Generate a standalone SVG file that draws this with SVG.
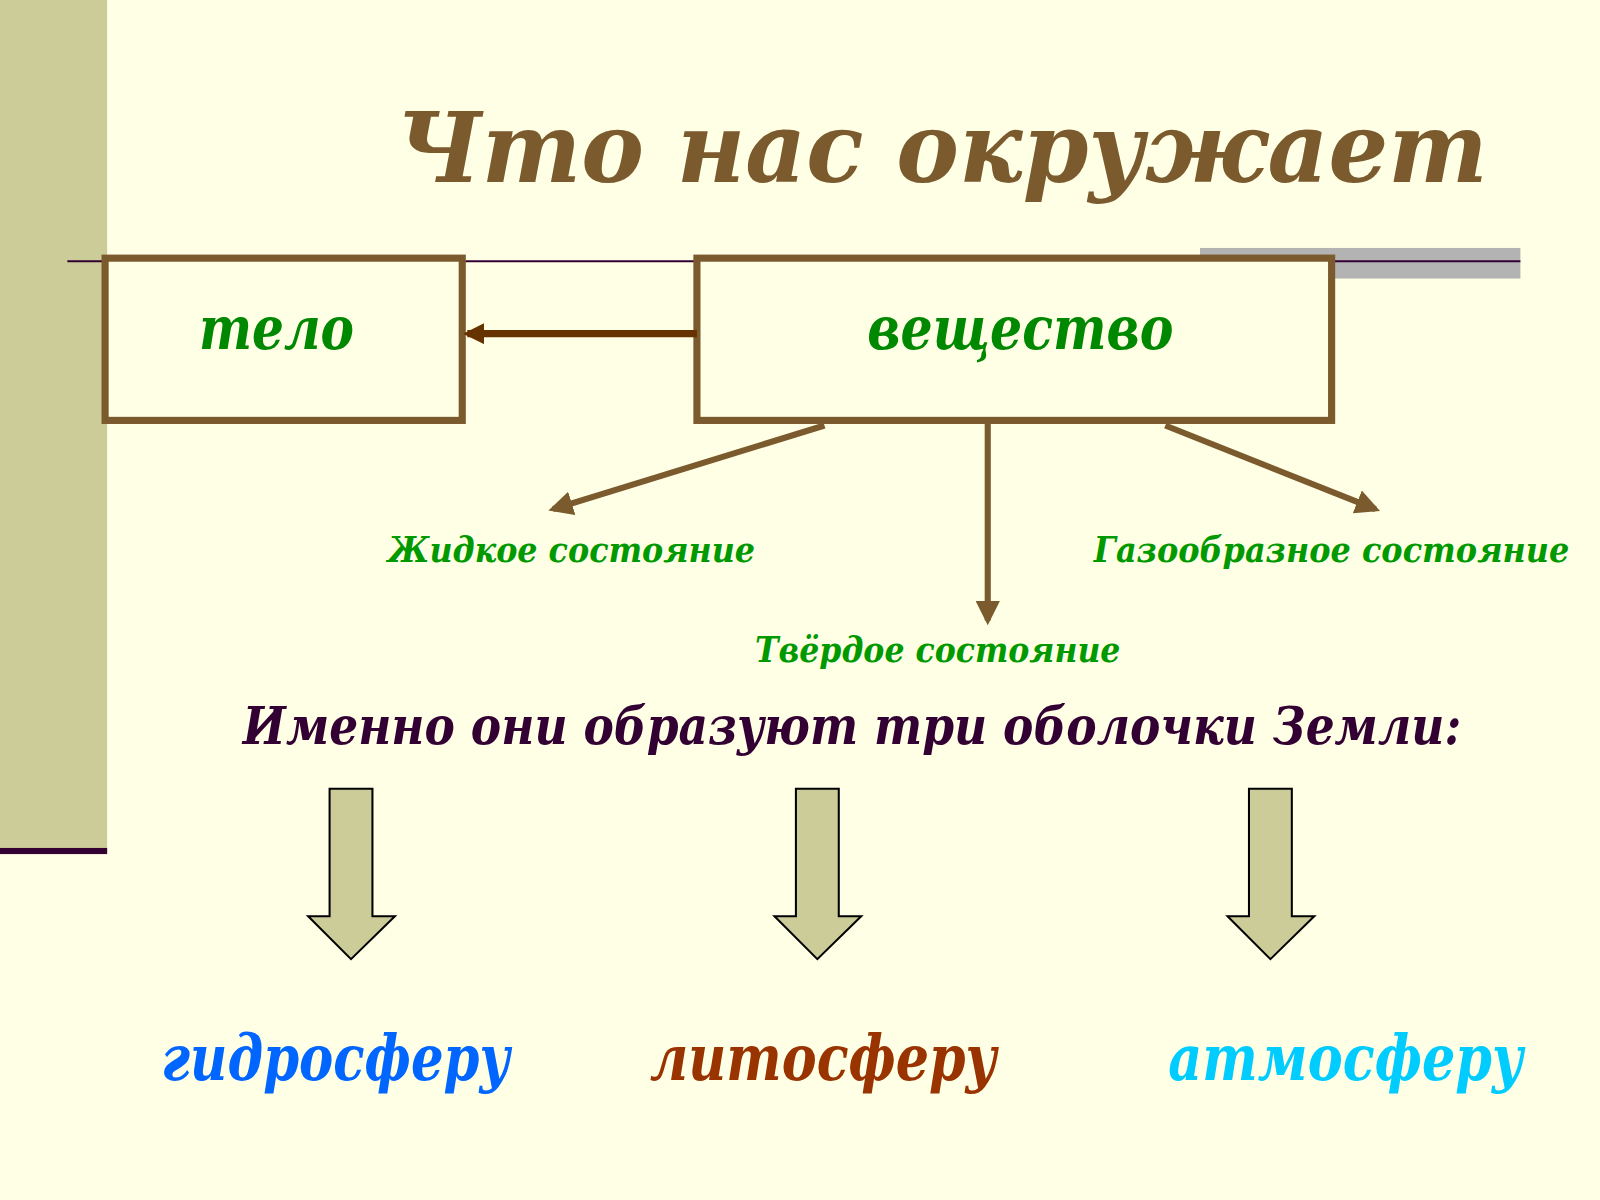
<svg xmlns="http://www.w3.org/2000/svg" width="1600" height="1200" viewBox="0 0 1600 1200">
<defs>
<style>
text{font-family:"DejaVu Serif","Liberation Serif",serif;font-weight:bold;font-style:italic}
.box{fill:#FFFFE5;stroke:#7B5A2E;stroke-width:7}
.ln{stroke:#7B5A2E;stroke-width:6;fill:none}
.lbl{fill:#009900;font-size:34px}
.big{fill:#008800;font-size:58px}
.barr{fill:#CCCC99;stroke:#000;stroke-width:2}
.sph{font-size:62px}
</style>
<marker id="ah" viewBox="0 0 10 10" refX="8" refY="5" markerWidth="4" markerHeight="4" orient="auto"><path d="M0,0L10,5L0,10z" fill="#7B5A2E"/></marker>
<marker id="ah2" viewBox="0 0 10 10" refX="8" refY="5" markerWidth="3" markerHeight="3" orient="auto"><path d="M0,0L10,5L0,10z" fill="#663300"/></marker>
</defs>
<rect width="1600" height="1200" fill="#FFFFE5"/>
<g transform="scale(1.0204)">
<rect x="0" y="0" width="105" height="835" fill="#CCCC99"/>
<rect x="0" y="831" width="105" height="6" fill="#330033"/>
<rect x="1176" y="243" width="314" height="30" fill="#B3B3B3"/>
<line x1="66" y1="256" x2="1490" y2="256" stroke="#330033" stroke-width="2"/>
<text x="388" y="178" textLength="1070" lengthAdjust="spacingAndGlyphs" font-size="96" fill="#7B5A2E">Что нас окружает</text>
<g id="telo"><rect class="box" x="103" y="253" width="350" height="159"/><text class="big" x="195" y="342" textLength="152" lengthAdjust="spacingAndGlyphs">тело</text></g>
<g id="veshchestvo"><rect class="box" x="683" y="253" width="622" height="159"/><text class="big" x="850" y="342" textLength="300" lengthAdjust="spacingAndGlyphs">вещество</text></g>
<g id="connectors">
<line x1="683" y1="327" x2="458" y2="327" stroke="#663300" stroke-width="7" marker-end="url(#ah2)"/>
<line class="ln" x1="808" y1="417" x2="542" y2="499" marker-end="url(#ah)"/>
<line class="ln" x1="968" y1="415" x2="968" y2="608" marker-end="url(#ah)"/>
<line class="ln" x1="1142" y1="417" x2="1348" y2="499" marker-end="url(#ah)"/>
</g>
<g id="zhidkoe"><text class="lbl" x="380" y="551" textLength="360" lengthAdjust="spacingAndGlyphs">Жидкое состояние</text></g>
<g id="gaz"><text class="lbl" x="1072" y="551" textLength="466" lengthAdjust="spacingAndGlyphs">Газообразное состояние</text></g>
<g id="tverdoe"><text class="lbl" x="740" y="649" textLength="358" lengthAdjust="spacingAndGlyphs">Твёрдое состояние</text></g>
<text x="238" y="729" textLength="1194" lengthAdjust="spacingAndGlyphs" font-size="52" fill="#330033">Именно они образуют три оболочки Земли:</text>
<g id="arrows">
<path class="barr" d="M323,773H365V898H387L344,940L302,898H323Z"/>
<path class="barr" d="M780,773H822V898H844L801,940L759,898H780Z"/>
<path class="barr" d="M1224,773H1266V898H1288L1245,940L1203,898H1224Z"/>
</g>
<g id="gidro"><text class="sph" x="158" y="1058" textLength="342" lengthAdjust="spacingAndGlyphs" fill="#0066FF">гидросферу</text></g>
<g id="lito"><text class="sph" x="637" y="1058" textLength="340" lengthAdjust="spacingAndGlyphs" fill="#993300">литосферу</text></g>
<g id="atmo"><text class="sph" x="1145" y="1058" textLength="348" lengthAdjust="spacingAndGlyphs" fill="#00CCFF">атмосферу</text></g>
</g>
</svg>
